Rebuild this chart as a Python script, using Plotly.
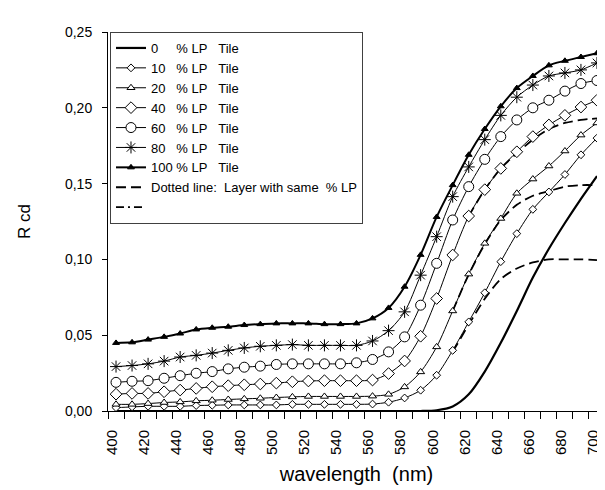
import plotly.graph_objects as go

wavelength = list(range(400, 701, 10))

tile_0 = [0, 0, 0, 0, 0, 0, 0, 0, 0, 0,
          0, 0, 0, 0, 0, 0, 0, 0, 0, 0,
          0.0005, 0.003, 0.011, 0.026, 0.045, 0.066, 0.088, 0.107, 0.124, 0.140, 0.155]
tile_10 = [0.0022, 0.0027, 0.0031, 0.0031, 0.0031, 0.0036, 0.0038, 0.0040, 0.0040, 0.0040,
           0.0040, 0.0044, 0.0044, 0.0044, 0.0044, 0.0044, 0.0046, 0.0058, 0.0086, 0.0137,
           0.0236, 0.040, 0.0588, 0.078, 0.0985, 0.117, 0.133, 0.1445, 0.156, 0.169, 0.180]
tile_20 = [0.0044, 0.0044, 0.0049, 0.0056, 0.0060, 0.0067, 0.0071, 0.0076, 0.0080, 0.0084,
           0.0089, 0.0093, 0.0096, 0.0096, 0.0096, 0.0096, 0.0098, 0.0110, 0.0159, 0.0258,
           0.0423, 0.066, 0.0903, 0.1106, 0.127, 0.1436, 0.153, 0.1616, 0.1715, 0.182, 0.190]
tile_40 = [0.0111, 0.0116, 0.0116, 0.0127, 0.0138, 0.0149, 0.0160, 0.0167, 0.0173, 0.0178,
           0.0184, 0.0193, 0.0198, 0.0200, 0.0200, 0.0200, 0.0204, 0.0247, 0.0330, 0.0493,
           0.0742, 0.1029, 0.1286, 0.146, 0.160, 0.171, 0.181, 0.1887, 0.195, 0.2005, 0.205]
tile_60 = [0.0189, 0.0196, 0.0200, 0.0216, 0.0233, 0.0249, 0.0260, 0.0278, 0.0289, 0.0296,
           0.0307, 0.0311, 0.0311, 0.0311, 0.0311, 0.0318, 0.0340, 0.0390, 0.0489, 0.0698,
           0.0974, 0.126, 0.148, 0.166, 0.181, 0.192, 0.200, 0.205, 0.211, 0.216, 0.218]
tile_80 = [0.0293, 0.0300, 0.0311, 0.0329, 0.0356, 0.0367, 0.0382, 0.0400, 0.0416, 0.0427,
           0.0433, 0.0438, 0.0433, 0.0433, 0.0433, 0.0433, 0.0462, 0.0530, 0.0654, 0.0896,
           0.115, 0.1414, 0.161, 0.179, 0.195, 0.207, 0.215, 0.221, 0.223, 0.225, 0.2296]
tile_100 = [0.0449, 0.0453, 0.0471, 0.0489, 0.0511, 0.0538, 0.0549, 0.0556, 0.0567, 0.0573,
            0.0578, 0.0578, 0.0578, 0.0573, 0.0573, 0.0578, 0.0611, 0.0680, 0.0820, 0.1030,
            0.128, 0.149, 0.169, 0.186, 0.201, 0.213, 0.221, 0.228, 0.231, 0.2335, 0.236]

layer_wl_0 = [610, 620, 630, 640, 650, 660, 670, 680, 690, 700]
layer_0 = [0.039, 0.057, 0.074, 0.087, 0.094, 0.098, 0.100, 0.100, 0.100, 0.0995]
layer_wl_10 = [610, 620, 630, 640, 650, 660, 670, 680, 690, 700]
layer_10 = [0.066, 0.090, 0.110, 0.126, 0.136, 0.142, 0.145, 0.148, 0.149, 0.149]
layer_wl_20 = [620, 630, 640, 650, 660, 670, 680, 690, 700]
layer_20 = [0.1286, 0.146, 0.160, 0.170, 0.179, 0.186, 0.190, 0.192, 0.193]

x_tick_vals = list(range(400, 701, 20))
x_tick_text = [str(v) for v in x_tick_vals]
y_tick_vals = [0, 0.05, 0.10, 0.15, 0.20, 0.25]

NB = "\u00a0"
names = [
    "0" + NB * 5 + "% LP" + NB * 3 + "Tile",
    "10" + NB * 3 + "% LP" + NB * 3 + "Tile",
    "20" + NB * 3 + "% LP" + NB * 3 + "Tile",
    "40" + NB * 3 + "% LP" + NB * 3 + "Tile",
    "60" + NB * 3 + "% LP" + NB * 3 + "Tile",
    "80" + NB * 3 + "% LP" + NB * 3 + "Tile",
    "100" + NB + "% LP" + NB * 3 + "Tile",
]

FONT = "Liberation Sans, Arial, sans-serif"
fig = go.Figure()

dash_style = "10px,5px"
for i, (wl, ys) in enumerate([(layer_wl_0, layer_0), (layer_wl_10, layer_10), (layer_wl_20, layer_20)]):
    fig.add_trace(go.Scatter(
        x=wl, y=ys, mode="lines",
        line=dict(color="black", width=1.8, dash=dash_style, shape="spline", smoothing=0.8),
        name="Dotted line:" + NB * 2 + "Layer with same" + NB * 2 + "% LP",
        showlegend=(i == 0), legendrank=8,
    ))

fig.add_trace(go.Scatter(
    x=[None], y=[None], mode="lines",
    line=dict(color="black", width=1.8, dash="8px,4px,2px,4px"),
    name=NB, legendrank=9,
))

series = [tile_0, tile_10, tile_20, tile_40, tile_60, tile_80, tile_100]
markers = [
    None,
    dict(symbol="diamond", size=6, color="white", line=dict(color="black", width=1)),
    dict(symbol="triangle-up", size=7, color="white", line=dict(color="black", width=1)),
    dict(symbol="diamond", size=9, color="white", line=dict(color="black", width=1)),
    dict(symbol="circle", size=10, color="white", line=dict(color="black", width=1)),
    dict(symbol="asterisk", size=10, color="black", line=dict(color="black", width=1)),
    dict(symbol="triangle-up", size=6, color="black", line=dict(color="black", width=1)),
]
widths = [2.2, 1, 1, 1, 1, 1, 2]
for k, ys in enumerate(series):
    m = markers[k]
    fig.add_trace(go.Scatter(
        x=wavelength, y=ys,
        mode="lines" if m is None else "lines+markers",
        line=dict(color="black", width=widths[k], shape="spline", smoothing=0.8),
        marker=m,
        name=names[k], legendrank=k + 1,
    ))

fig.update_layout(
    width=605, height=490,
    margin=dict(l=100, r=8, t=24, b=87),
    paper_bgcolor="white", plot_bgcolor="white",
    separators=",.",
    font=dict(family=FONT, size=13, color="black"),
    showlegend=True,
    legend=dict(
        x=0.004, y=1, xanchor="left", yanchor="top",
        bgcolor="white", bordercolor="#404040", borderwidth=1,
        font=dict(family=FONT, size=13, color="black"),
        itemwidth=30, tracegroupgap=0, traceorder="normal",
    ),
    xaxis=dict(
        range=[395, 705], showgrid=False, zeroline=False,
        showline=True, linecolor="black", linewidth=1,
        tickmode="array", tickvals=x_tick_vals, ticktext=x_tick_text,
        tickangle=-90, ticks="", ticklabelstandoff=12, ticklabelshift=-4,
        tickfont=dict(family=FONT, size=15),
        minor=dict(tickmode="linear", tick0=395, dtick=10, ticks="outside",
                   ticklen=7, tickcolor="black", tickwidth=1, showgrid=False),
        title=dict(text="wavelength" + NB * 2 + "(nm)", font=dict(family=FONT, size=20), standoff=12),
    ),
    yaxis=dict(
        range=[0, 0.25], showgrid=False, zeroline=False,
        showline=True, linecolor="black", linewidth=1,
        tickmode="array", tickvals=y_tick_vals, tickformat=".2f",
        ticks="outside", ticklen=5, tickcolor="black",
        ticklabelstandoff=7,
        tickfont=dict(family=FONT, size=14),
        title=dict(text="R cd", font=dict(family=FONT, size=17), standoff=30),
    ),
)

fig.write_html("out.html")
